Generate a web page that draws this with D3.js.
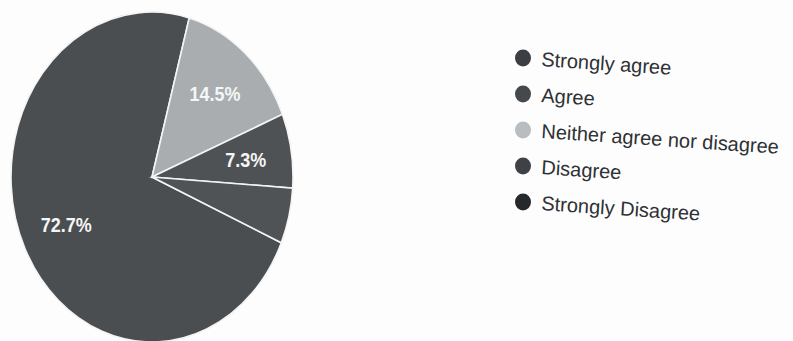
<!DOCTYPE html>
<html>
<head>
<meta charset="utf-8">
<script src="https://cdn.jsdelivr.net/npm/d3@7"></script>
<style>
  html, body { margin: 0; padding: 0; background: #fdfdfd; }
  svg { display: block; font-family: "Liberation Sans", Arial, sans-serif; }
</style>
</head>
<body>
<svg id="chart" width="793" height="341"></svg>
<script>
// data (55 responses)
const categories = ["Strongly agree", "Agree", "Neither agree nor disagree", "Disagree", "Strongly Disagree"];
const counts = [40, 0, 8, 4, 3];
const sliceColors = ["#4b4e50", "#4a4d50", "#a9adb0", "#4f5254", "#505356"];
const dotColors = ["#3b3f43", "#45494b", "#b9bdbf", "#3e4246", "#25292c"];

const width = 793, height = 341;
const cx = 152, cy = 177;
const radius = 141;
const squash = 1.17; // photo is taller than wide
const startDeg = 113.5;

const svg = d3.select("#chart");
const total = d3.sum(counts);

const pie = d3.pie()
    .sort(null)
    .value(d => d.value)
    .startAngle(startDeg * Math.PI / 180)
    .endAngle(startDeg * Math.PI / 180 + 2 * Math.PI);

const arcs = pie(categories.map((c, i) => ({ name: c, value: counts[i], i: i })))
    .filter(d => d.data.value > 0);

const arc = d3.arc().innerRadius(0).outerRadius(radius);
const labelArc = d3.arc().innerRadius(95).outerRadius(95);

// pie
const gPie = svg.append("g")
    .attr("transform", "translate(" + cx + "," + cy + ") scale(1," + squash + ")");

gPie.selectAll("path")
    .data(arcs)
    .enter()
    .append("path")
    .attr("d", arc)
    .attr("fill", d => sliceColors[d.data.i])
    .attr("stroke", "#f4f4f4")
    .attr("stroke-width", 1.6)
    .attr("vector-effect", "non-scaling-stroke");

// labels (hide the small one like the original)
const gLab = svg.append("g").attr("transform", "translate(" + cx + "," + cy + ")");
gLab.selectAll("text")
    .data(arcs.filter(d => d.data.value / total > 0.06))
    .enter()
    .append("text")
    .attr("transform", d => {
        const c = labelArc.centroid(d);
        return "translate(" + c[0] + "," + c[1] * squash + ") scale(1,1.15)";
    })
    .attr("text-anchor", "middle")
    .attr("dy", "0.36em")
    .attr("fill", "#f6f6f6")
    .attr("font-size", 18)
    .attr("font-weight", "bold")
    .text(d => (d.data.value / total * 100).toFixed(1) + "%");

// legend
const legendY = d3.scalePoint().domain(categories).range([58, 202]);
const gLeg = svg.append("g");
const item = gLeg.selectAll("g")
    .data(categories)
    .enter()
    .append("g")
    .attr("transform", d => "translate(523," + legendY(d) + ")");

item.append("ellipse")
    .attr("rx", 8)
    .attr("ry", 8.5)
    .attr("fill", (d, i) => dotColors[i]);

item.append("text")
    .attr("transform", "translate(18,8) rotate(3.8)")
    .attr("font-size", 20)
    .attr("fill", "#2e3134")
    .text(d => d);
</script>
</body>
</html>
